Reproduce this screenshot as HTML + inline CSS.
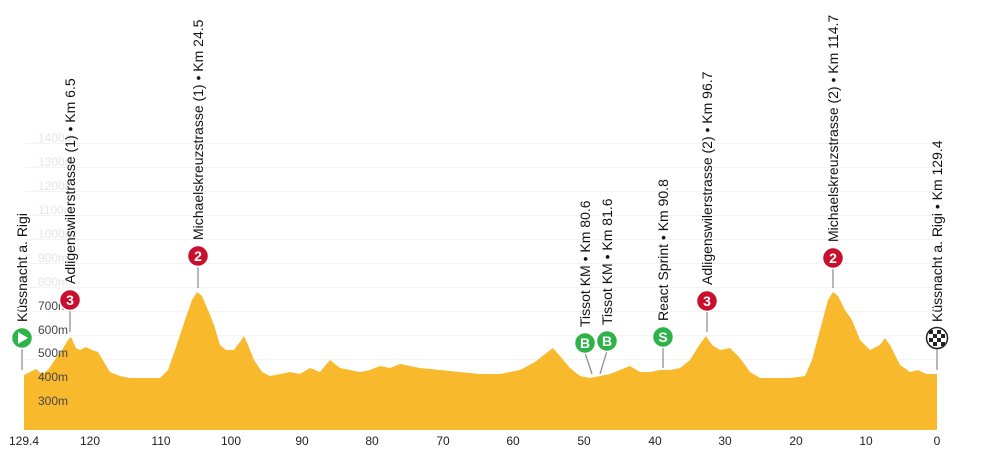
<!DOCTYPE html>
<html><head><meta charset="utf-8"><style>
body{margin:0;background:#fff;}
svg{display:block;font-family:"Liberation Sans",sans-serif;}
</style></head><body>
<svg width="1000" height="450" viewBox="0 0 1000 450">
<g stroke="#f3f3f3" stroke-width="1">
<line x1="24" x2="940" y1="383.5" y2="383.5"/><line x1="24" x2="940" y1="359.5" y2="359.5"/>
<line x1="24" x2="940" y1="335.5" y2="335.5"/><line x1="24" x2="940" y1="311.5" y2="311.5"/>
<line x1="24" x2="940" y1="287.5" y2="287.5"/><line x1="24" x2="940" y1="263.5" y2="263.5"/>
<line x1="24" x2="940" y1="239.5" y2="239.5"/><line x1="24" x2="940" y1="215.5" y2="215.5"/>
<line x1="24" x2="940" y1="191.5" y2="191.5"/><line x1="24" x2="940" y1="167.5" y2="167.5"/>
<line x1="24" x2="940" y1="143.5" y2="143.5"/>
</g>
<polygon fill="#f9b92d" points="24,430 24,375 30,372 36,369 42,374 48,370 56,358 62,350 68,340 71,337 76,348 80,350 86,347 92,350 98,352 104,362 110,372 120,376 130,378 160,378 168,370 175,350 185,320 192,300 197,292 202,296 208,310 214,325 220,345 226,350 234,350 240,342 244,336 248,345 254,360 262,372 270,376 280,374 290,372 300,374 310,368 320,372 330,360 340,368 350,370 360,372 370,370 380,366 390,368 400,364 420,368 440,370 460,372 480,374 500,374 520,370 535,362 545,354 553,348 560,356 570,368 580,376 590,378 600,376 610,374 620,370 630,366 640,372 650,372 660,370 670,370 680,368 690,360 700,344 706,336 712,345 720,350 730,348 740,358 750,372 760,378 790,378 805,376 812,360 820,330 828,300 833,292 838,296 845,310 852,320 860,340 870,350 880,345 885,338 890,345 900,365 910,372 918,370 926,374 937,374 937,430"/>
<g font-size="12" fill="#444">
<text x="38" y="405">300m</text><text x="38" y="381">400m</text><text x="38" y="357">500m</text>
<text x="38" y="334">600m</text><text x="38" y="310">700m</text>
</g>
<g font-size="12" fill="#e6e6e6">
<text x="38" y="286">800m</text><text x="38" y="262">900m</text><text x="38" y="238">1000m</text>
<text x="38" y="214">1100m</text><text x="38" y="190">1200m</text><text x="38" y="166">1300m</text><text x="38" y="142">1400m</text>
</g>
<g font-size="12" fill="#222" text-anchor="middle">
<text x="24" y="445">129.4</text><text x="90" y="445">120</text><text x="161" y="445">110</text><text x="231" y="445">100</text>
<text x="302" y="445">90</text><text x="372" y="445">80</text><text x="443" y="445">70</text><text x="513" y="445">60</text>
<text x="584" y="445">50</text><text x="655" y="445">40</text><text x="725" y="445">30</text><text x="796" y="445">20</text>
<text x="866" y="445">10</text><text x="937" y="445">0</text>
</g>
<g stroke="#888" stroke-width="1.2">
<line x1="22" y1="348" x2="22" y2="370"/><line x1="70" y1="310" x2="70" y2="332"/>
<line x1="198" y1="266" x2="198" y2="288"/><line x1="585" y1="353" x2="592" y2="374"/>
<line x1="607" y1="351" x2="600" y2="374"/><line x1="663" y1="347" x2="663" y2="368"/>
<line x1="707" y1="311" x2="707" y2="332"/><line x1="833" y1="268" x2="833" y2="288"/>
<line x1="937" y1="348" x2="937" y2="370"/>
</g>
<g stroke="#fff" stroke-width="1.5">
<circle cx="22" cy="338" r="10.5" fill="#2db34a"/>
<circle cx="70" cy="300" r="10.5" fill="#c8102e"/>
<circle cx="198" cy="256" r="10.5" fill="#c8102e"/>
<circle cx="585" cy="343" r="10.5" fill="#2db34a"/>
<circle cx="607" cy="341" r="10.5" fill="#2db34a"/>
<circle cx="663" cy="337" r="10.5" fill="#2db34a"/>
<circle cx="707" cy="301" r="10.5" fill="#c8102e"/>
<circle cx="833" cy="258" r="10.5" fill="#c8102e"/>
<circle cx="937" cy="338" r="10.5" fill="#fff" stroke="#222"/>
</g>
<polygon points="18,332 18,344 28,338" fill="#fff"/>
<g fill="#222">
<rect x="929" y="330" width="4" height="4"/><rect x="937" y="330" width="4" height="4"/>
<rect x="933" y="334" width="4" height="4"/><rect x="941" y="334" width="4" height="4"/>
<rect x="929" y="338" width="4" height="4"/><rect x="937" y="338" width="4" height="4"/>
<rect x="933" y="342" width="4" height="4"/><rect x="941" y="342" width="4" height="4"/>
</g>
<g font-size="14" font-weight="bold" fill="#fff" text-anchor="middle">
<text x="70" y="305">3</text><text x="198" y="261">2</text><text x="585" y="348">B</text>
<text x="607" y="346">B</text><text x="663" y="342">S</text><text x="707" y="306">3</text><text x="833" y="263">2</text>
</g>
<g font-size="14" fill="#111">
<text transform="translate(27,322) rotate(-90)">Küssnacht a. Rigi</text>
<text transform="translate(75,284) rotate(-90)">Adligenswilerstrasse (1) • Km 6.5</text>
<text transform="translate(203,240) rotate(-90)">Michaelskreuzstrasse (1) • Km 24.5</text>
<text transform="translate(590,327) rotate(-90)">Tissot KM • Km 80.6</text>
<text transform="translate(612,325) rotate(-90)">Tissot KM • Km 81.6</text>
<text transform="translate(668,321) rotate(-90)">React Sprint • Km 90.8</text>
<text transform="translate(712,285) rotate(-90)">Adligenswilerstrasse (2) • Km 96.7</text>
<text transform="translate(838,242) rotate(-90)">Michaelskreuzstrasse (2) • Km 114.7</text>
<text transform="translate(942,322) rotate(-90)">Küssnacht a. Rigi • Km 129.4</text>
</g>
</svg>
</body></html>
